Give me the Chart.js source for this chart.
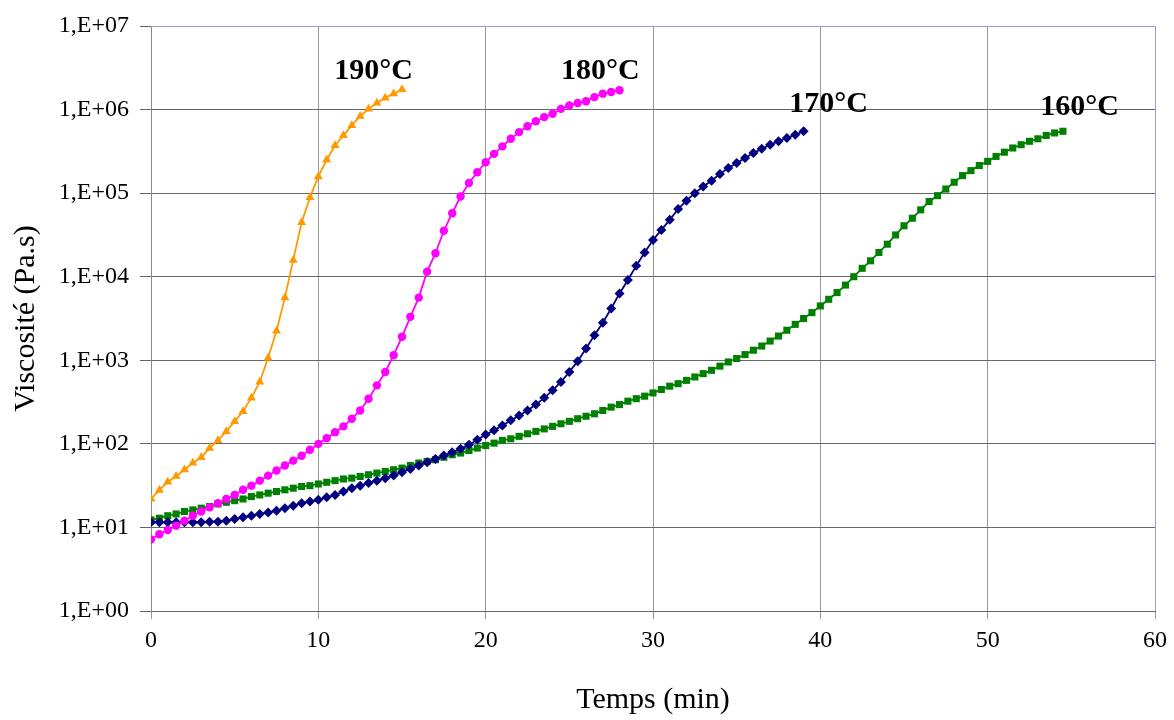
<!DOCTYPE html>
<html>
<head>
<meta charset="utf-8">
<script src="https://cdn.jsdelivr.net/npm/chart.js@4/dist/chart.umd.min.js"></script>
<style>
  html, body { margin: 0; padding: 0; background: #fff; }
  canvas { display: block; }
</style>
</head>
<body>
<canvas id="myChart" width="1174" height="720"></canvas>
<script>
// temps (min), un point toutes les 30 s
const time = [
  0, 0.5, 1, 1.5, 2, 2.5, 3, 3.5, 4, 4.5, 5, 5.5, 6, 6.5, 7, 7.5, 8, 8.5, 9, 9.5,
  10, 10.5, 11, 11.5, 12, 12.5, 13, 13.5, 14, 14.5, 15, 15.5, 16, 16.5, 17, 17.5, 18, 18.5, 19, 19.5,
  20, 20.5, 21, 21.5, 22, 22.5, 23, 23.5, 24, 24.5, 25, 25.5, 26, 26.5, 27, 27.5, 28, 28.5, 29, 29.5,
  30, 30.5, 31, 31.5, 32, 32.5, 33, 33.5, 34, 34.5, 35, 35.5, 36, 36.5, 37, 37.5, 38, 38.5, 39, 39.5,
  40, 40.5, 41, 41.5, 42, 42.5, 43, 43.5, 44, 44.5, 45, 45.5, 46, 46.5, 47, 47.5, 48, 48.5, 49, 49.5,
  50, 50.5, 51, 51.5, 52, 52.5, 53, 53.5, 54, 54.5,
];

// viscosité (Pa.s)
const v190 = [
  22, 28, 35, 41, 49, 59, 69, 89, 110, 141,
  186, 245, 355, 550, 1070, 2240, 5620, 15800, 44700, 89000,
  158000, 251000, 372000, 490000, 646000, 832000, 1020000, 1200000, 1380000, 1550000,
  1740000,
];
const v180 = [
  7.2, 8.3, 9.3, 10.5, 12, 13.8, 15.5, 17.4, 19.5, 21.9,
  24.5, 28.2, 31.6, 36.3, 41.7, 47.9, 55, 63, 72, 85,
  100, 117, 138, 162, 200, 251, 347, 501, 724, 1150,
  1910, 3310, 5620, 11500, 19100, 35500, 57500, 91200, 132000, 178000,
  234000, 295000, 363000, 447000, 537000, 631000, 724000, 813000, 891000, 1020000,
  1120000, 1200000, 1260000, 1410000, 1550000, 1620000, 1700000,
];
const v170 = [
  11.5, 11.5, 11.5, 11.5, 11.5, 11.5, 11.5, 11.7, 11.7, 12.0,
  12.6, 13.2, 13.8, 14.5, 15.1, 15.8, 17.0, 18.2, 19.5, 20.4,
  21.4, 22.9, 24.5, 26.9, 29.5, 31.6, 33.9, 36.3, 38.9, 41.7,
  45.7, 50.1, 55.0, 60.3, 66.1, 72.4, 79.4, 87.1, 97.7, 112,
  129, 145, 166, 191, 219, 251, 295, 355, 437, 550,
  724, 977, 1380, 2000, 2820, 4170, 6310, 9120, 13500, 19500,
  27500, 36300, 47900, 64600, 81300, 100000, 120000, 141000, 170000, 200000,
  229000, 263000, 302000, 339000, 380000, 417000, 457000, 501000, 550000,
];
const v160 = [
  12.3, 12.9, 13.8, 14.5, 15.5, 16.2, 17.0, 17.8, 19.1, 20.0,
  20.9, 21.9, 23.4, 24.5, 25.7, 26.9, 28.2, 29.5, 30.9, 31.6,
  33.1, 34.7, 36.3, 38.0, 38.9, 40.7, 42.7, 44.7, 46.8, 49.0,
  51.3, 55.0, 58.9, 61.7, 64.6, 69.2, 74.1, 77.6, 83.2, 89.1,
  95.5, 102, 110, 115, 123, 132, 141, 151, 162, 174,
  186, 200, 214, 229, 251, 275, 295, 324, 347, 372,
  407, 447, 490, 525, 575, 631, 692, 759, 851, 955,
  1050, 1170, 1320, 1480, 1700, 1950, 2290, 2690, 3160, 3720,
  4470, 5370, 6460, 7940, 10000, 12600, 15500, 19500, 24500, 31600,
  40700, 50100, 63100, 79400, 93300, 112000, 135000, 162000, 186000, 214000,
  240000, 275000, 309000, 347000, 380000, 417000, 447000, 490000, 525000, 550000,
];

const seriesNames = ["190°C", "180°C", "170°C", "160°C"];
const yTicks = [1, 10, 100, 1000, 10000, 100000, 1000000, 10000000];
const xTicks = [0, 10, 20, 30, 40, 50, 60];

const serif = '"Liberation Serif", "Times New Roman", serif';

const toPoints = (values) => values.map((v, i) => ({ x: time[i], y: v }));

const serie = (label, values, color, pointStyle, radius) => ({
  label,
  data: toPoints(values),
  borderColor: color,
  backgroundColor: color,
  borderWidth: 1.8,
  pointStyle,
  pointRadius: radius,
  pointBorderWidth: 0,
  tension: 0,
});

// étiquettes de température près de la fin de chaque courbe
const tempLabels = {
  id: "tempLabels",
  afterDatasetsDraw(chart, args, opts) {
    const { ctx, scales } = chart;
    ctx.save();
    ctx.font = "bold 30px " + serif;
    ctx.fillStyle = "#000";
    ctx.textAlign = "center";
    ctx.textBaseline = "middle";
    opts.items.forEach((it) => {
      ctx.fillText(it.text, scales.x.getPixelForValue(it.x), scales.y.getPixelForValue(it.y));
    });
    // bord haut et droit du cadre
    const a = chart.chartArea;
    ctx.strokeStyle = "#9b9bd6";
    ctx.lineWidth = 1;
    ctx.beginPath();
    ctx.moveTo(a.left, a.top + 0.5);
    ctx.lineTo(a.right + 0.5, a.top + 0.5);
    ctx.lineTo(a.right + 0.5, a.bottom);
    ctx.stroke();
    ctx.restore();
  },
};

let chart = document.getElementById("myChart").getContext("2d");

new Chart(chart, {
  type: "line",
  data: {
    datasets: [
      serie(seriesNames[0], v190, "#ff9900", "triangle", 5.2),
      serie(seriesNames[1], v180, "#ff00ff", "circle", 4.2),
      serie(seriesNames[2], v170, "#000080", "rectRot", 5),
      serie(seriesNames[3], v160, "#008000", "rect", 5),
    ],
  },
  options: {
    responsive: false,
    animation: false,
    layout: { padding: { left: 8, top: 26, right: 15, bottom: 0 } },
    plugins: {
      legend: { display: false },
      tooltip: { enabled: false },
      tempLabels: {
        items: [
          { text: seriesNames[0], x: 13.3, y: 2.9e6 },
          { text: seriesNames[1], x: 26.85, y: 2.9e6 },
          { text: seriesNames[2], x: 40.5, y: 1.17e6 },
          { text: seriesNames[3], x: 55.5, y: 1.07e6 },
        ],
      },
    },
    scales: {
      x: {
        type: "linear",
        min: 0,
        max: 60,
        afterBuildTicks: (s) => { s.ticks = xTicks.map((v) => ({ value: v })); },
        ticks: { font: { family: serif, size: 24 }, color: "#000", padding: 7 },
        grid: { color: "#999", tickLength: 8 },
        border: { color: "#666" },
        title: {
          display: true,
          text: "Temps (min)",
          font: { family: serif, size: 30 },
          color: "#000",
          padding: { top: 0, bottom: 2 },
        },
        afterFit: (s) => { s.height = 109; },
      },
      y: {
        type: "logarithmic",
        min: 1,
        max: 1e7,
        afterBuildTicks: (s) => { s.ticks = yTicks.map((v) => ({ value: v })); },
        ticks: {
          font: { family: serif, size: 24 },
          color: "#000",
          padding: 11,
          autoSkip: false,
          callback: (v) => "1,E+" + String(Math.round(Math.log10(v))).padStart(2, "0"),
        },
        grid: { color: "#666", tickLength: 11 },
        border: { color: "#888" },
        title: {
          display: true,
          text: "Viscosité (Pa.s)",
          font: { family: serif, size: 30 },
          color: "#000",
          padding: 0,
        },
        afterFit: (s) => { s.width = 143; },
      },
    },
  },
  plugins: [tempLabels],
});
</script>
</body>
</html>
